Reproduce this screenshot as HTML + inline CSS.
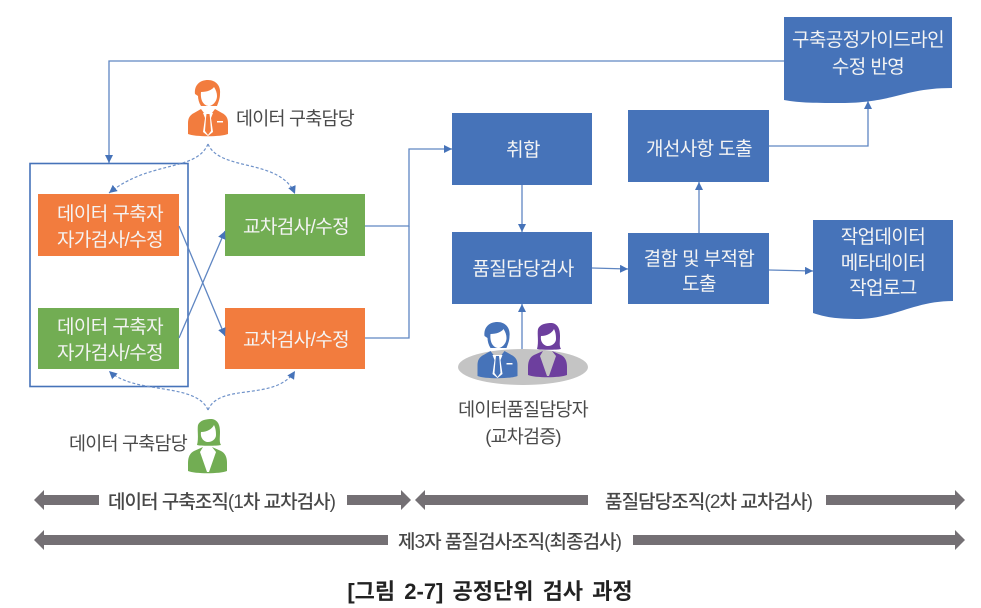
<!DOCTYPE html>
<html lang="ko"><head><meta charset="utf-8"><style>
html,body{margin:0;padding:0;background:#fff;width:981px;height:608px;overflow:hidden}
svg{display:block;filter:blur(.35px)}
text{font-family:"Liberation Sans","Noto Sans CJK KR",sans-serif;text-anchor:middle}
.w{fill:#f4f4f4;font-size:19px;letter-spacing:-.6px}
.d{fill:#4a4a4a;font-size:18.5px;letter-spacing:-.8px}
.g{fill:#484848;font-size:19px;font-weight:500}
.l{fill:none;stroke:#5f86c2;stroke-width:1.3}
.dot{fill:none;stroke:#6f92c9;stroke-width:1.2;stroke-dasharray:3 2}
.bar{fill:#747074}
</style></head><body>
<svg width="981" height="608" viewBox="0 0 981 608" xmlns="http://www.w3.org/2000/svg">
<defs>
<marker id="a" markerWidth="9" markerHeight="9" refX="8" refY="4" orient="auto" markerUnits="userSpaceOnUse"><path d="M0 0L8 4L0 8Z" fill="#4673b9"/></marker>
<g id="man">
<path d="M195 94C194 85 200 80 208 80C216 80 221 86 220 94C220 99 218 103 217 106H201C199 103 198 99 198 96Z"/>
<path d="M201 92C207 92 212 90 214 87C216 90 217 93 217 96C217 102 212 106 209 106C205 106 200 102 201 92Z" fill="#fff"/>
<path d="M201 109L194 113C190 115 188 118 188 123V134C195 137 221 137 228 134V123C228 118 226 115 222 113L215 109L212 113H204Z"/>
<path d="M203 113H213L211 118L213 132L208 136L203 132L205 118Z" fill="#fff"/>
<path d="M206.500 114H209.500L210 118L211 131L208 135L205 131L206 118Z"/>
<rect x="217" y="121" width="6" height="1.500" fill="#fff"/>
</g>
<g id="woman">
<path d="M197 445C199 438 197 430 198 425C200 420 206 419 212 419C218 420 220 425 220 432C220 438 219 442 221 445C217 446 200 446 197 445Z"/>
<path d="M201 432C207 432 212 429 214 425C216 429 216 433 216 435C216 439 212 442 208 442C204 442 200 438 201 432Z" fill="#fff"/>
<path d="M203 447L194 451C190 453 188 457 188 463V471C195 474 220 474 227 471V463C227 457 225 453 221 451L212 447L216 452L209 472H207L200 452Z"/>
</g>
</defs>
<!-- feedback line -->
<path class="l" d="M784 61H109V163" marker-end="url(#a)"/>
<rect x="30" y="163.500" width="158" height="223" fill="none" stroke="#4673b9" stroke-width="1.6"/>
<!-- left boxes -->
<rect x="38" y="194" width="141" height="62" fill="#f27c3e"/>
<rect x="38" y="308" width="141" height="61" fill="#72ad53"/>
<rect x="225" y="194" width="140" height="62" fill="#72ad53"/>
<rect x="225" y="308" width="140" height="61" fill="#f27c3e"/>
<text class="w" x="110" y="220">데이터 구축자</text><text class="w" x="110" y="246">자가검사/수정</text>
<text class="w" x="110" y="333">데이터 구축자</text><text class="w" x="110" y="359">자가검사/수정</text>
<text class="w" x="296" y="233">교차검사/수정</text><text class="w" x="296" y="346">교차검사/수정</text>
<!-- cross -->
<path class="l" d="M179 226L225 336" marker-end="url(#a)"/>
<path class="l" d="M179 338L225 231" marker-end="url(#a)"/>
<!-- merge -->
<path class="l" d="M365 226H409V149H452" marker-end="url(#a)"/>
<path class="l" d="M365 338H409V226"/>
<!-- dotted -->
<path class="dot" d="M208 144C196 172 150 160 109 193" marker-end="url(#a)"/>
<path class="dot" d="M208 144C220 172 280 158 295 194" marker-end="url(#a)"/>
<path class="dot" d="M208 410C196 382 135 395 109 371" marker-end="url(#a)"/>
<path class="dot" d="M208 410C220 382 275 402 295 371" marker-end="url(#a)"/>
<!-- people -->
<use href="#man" fill="#f27c3e"/>
<text class="d" x="295" y="125">데이터 구축담당</text>
<use href="#woman" fill="#72ad53"/>
<text class="d" x="128" y="450">데이터 구축담당</text>
<!-- right -->
<rect x="452" y="113" width="140" height="72" fill="#4673b9"/>
<rect x="452" y="232" width="140" height="72" fill="#4673b9"/>
<rect x="628" y="110" width="141" height="72" fill="#4673b9"/>
<rect x="628" y="233" width="141" height="71" fill="#4673b9"/>
<text class="w" x="523" y="156">취합</text>
<text class="w" x="523" y="275">품질담당검사</text>
<text class="w" x="699" y="155">개선사항 도출</text>
<text class="w" x="699" y="265">결함 및 부적합</text><text class="w" x="699" y="290">도출</text>
<path class="l" d="M522 185V232" marker-end="url(#a)"/>
<path class="l" d="M592 268L628 269" marker-end="url(#a)"/>
<path class="l" d="M699 233V182" marker-end="url(#a)"/>
<path class="l" d="M769 270L813 271" marker-end="url(#a)"/>
<path class="l" d="M769 146H868V101" marker-end="url(#a)"/>
<path class="l" d="M522 350V304" marker-end="url(#a)"/>
<!-- docs -->
<path d="M784 17H952V88C905 88 895 102 845 103C815 103 800 103 784 100Z" fill="#4673b9"/>
<path d="M813 220H953V301C915 301 895 318 860 319C835 319 825 317 813 313Z" fill="#4673b9"/>
<text class="w" x="868" y="46">구축공정가이드라인</text><text class="w" x="868" y="73">수정 반영</text>
<text class="w" x="883" y="243">작업데이터</text><text class="w" x="883" y="269">메타데이터</text><text class="w" x="883" y="294">작업로그</text>
<!-- quality people -->
<ellipse cx="523" cy="367" rx="65" ry="18" fill="#c4c4c4"/>
<use href="#man" fill="#4673b9" transform="translate(289.500 242)"/>
<use href="#woman" fill="#6d3f9e" transform="translate(340 -96)"/>
<text class="d" x="523" y="416">데이터품질담당자</text><text class="d" x="523" y="443">(교차검증)</text>
<!-- bars -->
<path class="bar" d="M34 500L44 490V495H99V505H44V510Z"/>
<path class="bar" d="M347 495H401V490L411 500L401 510V505H347Z"/>
<path class="bar" d="M415 500L425 490V495H588V505H425V510Z"/>
<path class="bar" d="M826 495H955V490L965 500L955 510V505H826Z"/>
<path class="bar" d="M34 540L44 530V535H388V545H44V550Z"/>
<path class="bar" d="M633 535H955V530L965 540L955 550V545H633Z"/>
<text class="g" x="222" y="508" textLength="228">데이터 구축조직(1차 교차검사)</text>
<text class="g" x="709" y="508" textLength="208">품질담당조직(2차 교차검사)</text>
<text class="g" x="510" y="548" textLength="224">제3자 품질검사조직(최종검사)</text>
<text x="490" y="599" style="font-size:22px;font-weight:700;fill:#222;word-spacing:3px">[그림 2-7] 공정단위 검사 과정</text>
</svg>
</body></html>
